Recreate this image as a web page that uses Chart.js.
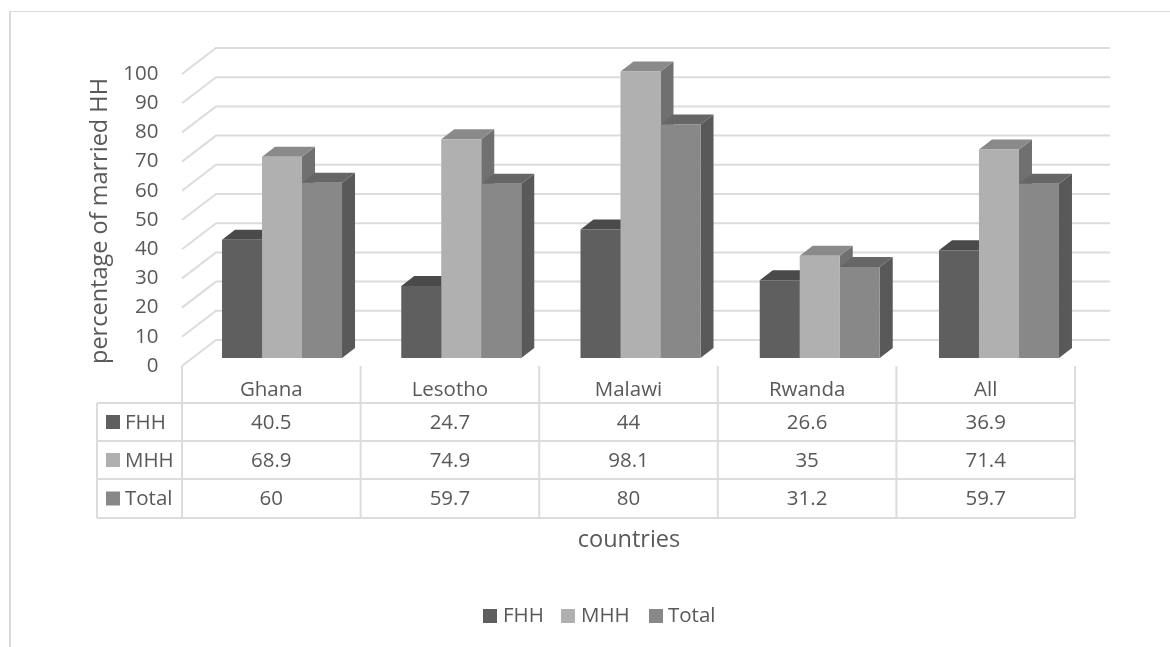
<!DOCTYPE html>
<html>
<head>
<meta charset="utf-8">
<style>
  html, body { margin: 0; padding: 0; background: #fff; }
  #wrap { width: 1170px; height: 647px; }
</style>
<script src="https://cdn.jsdelivr.net/npm/chart.js@4/dist/chart.umd.min.js"></script>
</head>
<body>
<div id="wrap"><canvas id="marriedChart" width="1170" height="647"></canvas></div>
<script>
const categories = ['Ghana', 'Lesotho', 'Malawi', 'Rwanda', 'All'];
const fhhValues = [40.5, 24.7, 44, 26.6, 36.9];
const mhhValues = [68.9, 74.9, 98.1, 35, 71.4];
const totalValues = [60, 59.7, 80, 31.2, 59.7];
const seriesNames = ['FHH', 'MHH', 'Total'];

const FONT = '"Open Sans", sans-serif';
const TEXT_COLOR = '#595959';
const LINE_COLOR = '#dcdcdc';

// front, top and side shades of each series
const frontColors = ['#5f5f5f', '#b0b0b0', '#888888'];
const topColors = ['#4a4a4a', '#8a8a8a', '#666666'];
const sideColors = ['#484848', '#707070', '#595959'];

// bar extrusion and floor offsets of the fake 3D box
const depthX = 13;
const depthY = 10;
const backX = 216, frontX = 182, wallRight = 1110;
const backDY = -18, frontDY = 8;

// data table grid
const tableLeft = 97;
const tableRight = 1075;
const tableTop = 366;
const rowLines = [403, 441, 479, 518];

// legend entries: swatch left and text left
const legendBoxX = [483, 561, 649];
const legendTextX = [503, 581, 668];

function poly(ctx, pts, color) {
  ctx.fillStyle = color;
  ctx.beginPath();
  pts.forEach((p, i) => i ? ctx.lineTo(p[0], p[1]) : ctx.moveTo(p[0], p[1]));
  ctx.closePath();
  ctx.fill();
}

function line(ctx, x1, y1, x2, y2) {
  ctx.beginPath();
  ctx.moveTo(x1, y1);
  ctx.lineTo(x2, y2);
  ctx.stroke();
}

function drawFrame(ctx) {
  ctx.strokeStyle = '#d9d9d9';
  ctx.lineWidth = 2;
  line(ctx, 10, 647, 10, 11);
  ctx.lineWidth = 1;
  line(ctx, 9, 11.5, 1170, 11.5);
}

// wall gridlines with their slanted side
function drawGrid(ctx, y) {
  ctx.strokeStyle = LINE_COLOR;
  ctx.lineWidth = 2;
  y.ticks.forEach(t => {
    const py = y.getPixelForValue(t.value);
    ctx.beginPath();
    ctx.moveTo(frontX, py + frontDY);
    ctx.lineTo(backX, py + backDY);
    ctx.lineTo(wallRight, py + backDY);
    ctx.stroke();
  });
}

function drawTable(ctx, chart) {
  const step = (tableRight - frontX) / categories.length;
  ctx.strokeStyle = LINE_COLOR;
  ctx.lineWidth = 2;
  rowLines.forEach(ry => line(ctx, tableLeft, ry, tableRight, ry));
  line(ctx, tableLeft, rowLines[0], tableLeft, rowLines[3]);
  for (let i = 0; i <= categories.length; i++) {
    line(ctx, frontX + step * i, tableTop, frontX + step * i, rowLines[3]);
  }

  ctx.font = '20.5px ' + FONT;
  ctx.textBaseline = 'middle';
  ctx.fillStyle = TEXT_COLOR;
  ctx.textAlign = 'center';
  categories.forEach((c, i) => ctx.fillText(c, frontX + step * (i + 0.5), 390));

  chart.data.datasets.forEach((ds, r) => {
    const cy = (rowLines[r] + rowLines[r + 1]) / 2;
    ctx.fillStyle = frontColors[r];
    ctx.fillRect(106, cy - 7, 14, 14);
    ctx.fillStyle = TEXT_COLOR;
    ctx.textAlign = 'left';
    ctx.fillText(ds.label, 125, cy + 1);
    ctx.textAlign = 'center';
    ds.data.forEach((v, i) => {
      ctx.fillText(String(v), frontX + step * (i + 0.5), cy + 1);
    });
  });
}

function drawTitles(ctx) {
  ctx.fillStyle = TEXT_COLOR;
  ctx.textAlign = 'center';
  ctx.textBaseline = 'middle';
  ctx.font = '23.5px ' + FONT;
  ctx.fillText('countries', 629, 540);
  ctx.save();
  ctx.translate(100, 221);
  ctx.rotate(-Math.PI / 2);
  ctx.fillText('percentage of married HH', 0, 0);
  ctx.restore();
}

function drawLegend(ctx) {
  ctx.font = '20.5px ' + FONT;
  ctx.textAlign = 'left';
  ctx.textBaseline = 'middle';
  seriesNames.forEach((name, i) => {
    ctx.fillStyle = frontColors[i];
    ctx.fillRect(legendBoxX[i], 609, 14, 14);
    ctx.fillStyle = TEXT_COLOR;
    ctx.fillText(name, legendTextX[i], 616);
  });
}

const boxPlugin = {
  id: 'box3d',
  beforeDatasetsDraw(chart) {
    const ctx = chart.ctx;
    ctx.save();
    drawFrame(ctx);
    drawGrid(ctx, chart.scales.y);
    drawTable(ctx, chart);
    drawTitles(ctx);
    drawLegend(ctx);

    // tops and sides, left to right so nearer bars cover farther faces
    categories.forEach((c, i) => {
      chart.data.datasets.forEach((ds, d) => {
        const bar = chart.getDatasetMeta(d).data[i];
        const l = bar.x - bar.width / 2;
        const r = bar.x + bar.width / 2;
        poly(ctx, [[r, bar.y], [r + depthX, bar.y - depthY], [r + depthX, bar.base - depthY], [r, bar.base]], sideColors[d]);
        poly(ctx, [[l, bar.y], [r, bar.y], [r + depthX, bar.y - depthY], [l + depthX, bar.y - depthY]], topColors[d]);
      });
    });
    ctx.restore();
  }
};

new Chart(document.getElementById('marriedChart'), {
  type: 'bar',
  data: {
    labels: categories,
    datasets: [fhhValues, mhhValues, totalValues].map((values, i) => ({
      label: seriesNames[i],
      data: values,
      backgroundColor: frontColors[i],
      categoryPercentage: 0.6695,
      barPercentage: 1
    }))
  },
  plugins: [boxPlugin],
  options: {
    responsive: false,
    animation: false,
    layout: { padding: { left: 113.4, right: 81.4, top: 66, bottom: 289 } },
    scales: {
      x: { display: false },
      y: {
        min: 0,
        max: 100,
        grid: { display: false, drawTicks: false },
        border: { display: false },
        ticks: {
          stepSize: 10,
          color: TEXT_COLOR,
          font: { family: FONT, size: 20.5 },
          padding: 34,
          labelOffset: 8
        },
        afterFit(scale) {
          scale.width = 79;
        }
      }
    },
    plugins: {
      tooltip: { enabled: false },
      legend: { display: false }
    }
  }
});
</script>
</body>
</html>
